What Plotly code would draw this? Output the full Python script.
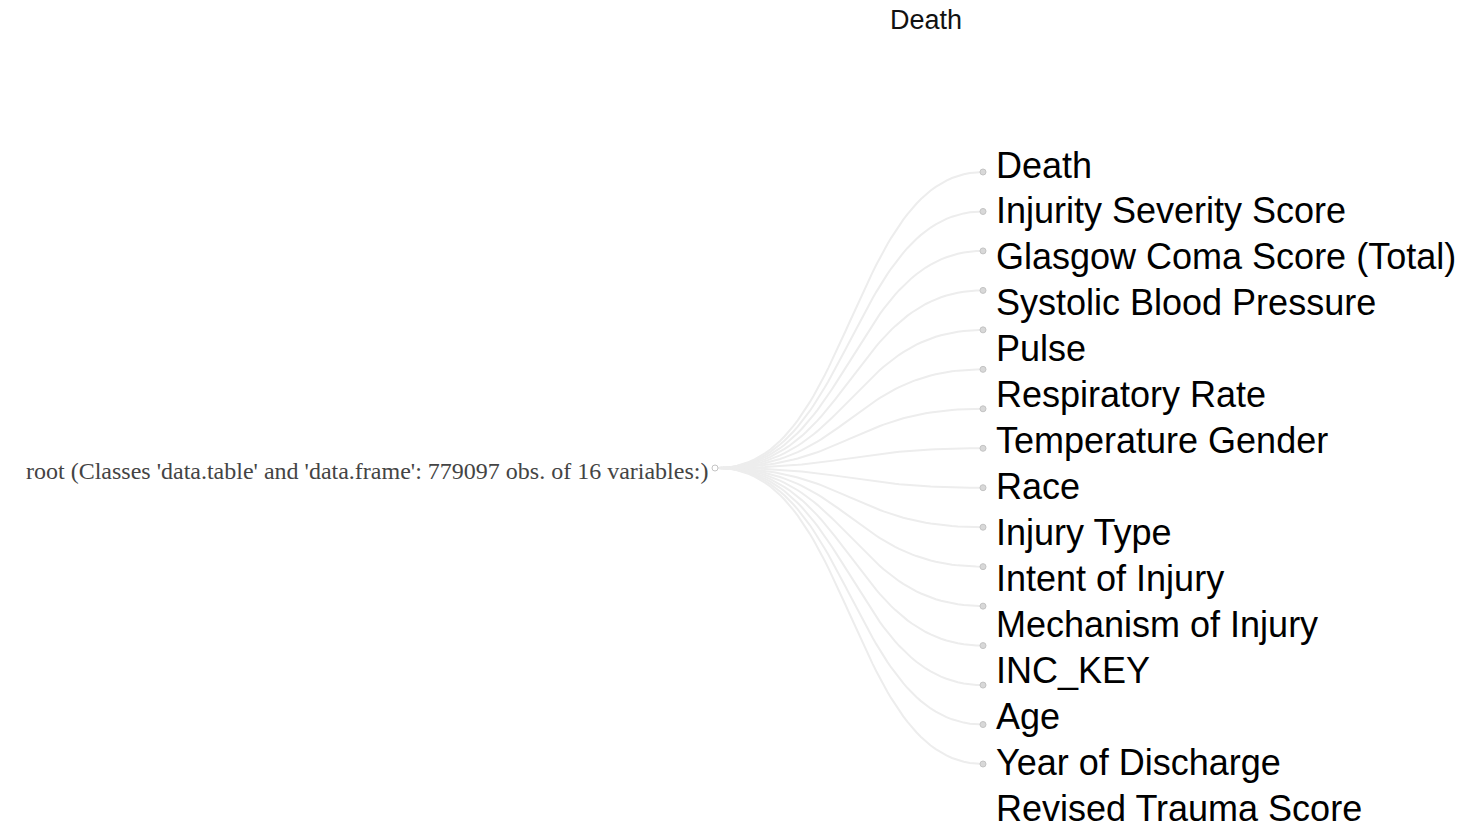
import numpy as np
import plotly.graph_objects as go

title = "Death"
root_label = "root (Classes 'data.table' and 'data.frame': 779097 obs. of 16 variables:)"
variables = ["Death", "Injurity Severity Score", "Glasgow Coma Score (Total)",
             "Systolic Blood Pressure", "Pulse", "Respiratory Rate", "Temperature",
             "Gender", "Race", "Injury Type", "Intent of Injury", "Mechanism of Injury",
             "INC_KEY", "Age", "Year of Discharge", "Revised Trauma Score"]
label_lines = ["Death", "Injurity Severity Score", "Glasgow Coma Score (Total)",
               "Systolic Blood Pressure", "Pulse", "Respiratory Rate",
               "Temperature Gender", "Race", "Injury Type", "Intent of Injury",
               "Mechanism of Injury", "INC_KEY", "Age", "Year of Discharge",
               "Revised Trauma Score"]

W, H = 1467, 826
PAGE = 8  # default body margin of the html page
# tree layout (page pixel space)
root_x, leaf_x = 718, 983
top_y, bot_y = 172, 764
n = len(variables)
leaf_y = np.linspace(top_y, bot_y, n)
root_y = (top_y + bot_y) / 2
label_y = np.linspace(165, 808, len(label_lines))

fig = go.Figure()
t = np.linspace(0, 1, 60)
mx = (root_x + leaf_x) / 2
for ly in leaf_y:
    bx = (1-t)**3*root_x + 3*(1-t)**2*t*mx + 3*(1-t)*t**2*mx + t**3*leaf_x
    by = (1-t)**3*root_y + 3*(1-t)**2*t*root_y + 3*(1-t)*t**2*ly + t**3*ly
    fig.add_trace(go.Scatter(x=bx, y=by, mode="lines",
                             line=dict(color="#ededed", width=2),
                             hoverinfo="skip", showlegend=False))

fig.add_trace(go.Scatter(x=[leaf_x]*n, y=leaf_y, mode="markers",
                         marker=dict(size=6, color="#d8d8d8",
                                     line=dict(color="#c4c4c4", width=1)),
                         text=variables, hoverinfo="text", showlegend=False))
fig.add_trace(go.Scatter(x=[root_x - 3], y=[root_y], mode="markers",
                         marker=dict(size=6, color="#ffffff",
                                     line=dict(color="#c4c4c4", width=1)),
                         text=[root_label], hoverinfo="text", showlegend=False))

fig.add_annotation(x=926, y=20, xref="x", yref="y", text=title, showarrow=False,
                   font=dict(family="Liberation Sans, Arial", size=27, color="#111"),
                   xanchor="center", yanchor="middle")
fig.add_annotation(x=root_x - 8, y=root_y + 3, xref="x", yref="y", text=root_label,
                   showarrow=False, xanchor="right", yanchor="middle",
                   font=dict(family="Liberation Serif, Times New Roman", size=24, color="#444"))
for ly, txt in zip(label_y, label_lines):
    fig.add_annotation(x=994, y=ly, xref="x", yref="y", text=txt,
                       showarrow=False, xanchor="left", yanchor="middle", align="left",
                       font=dict(family="Liberation Sans, Arial", size=36, color="#000"))

fig.update_layout(width=W, height=H, margin=dict(l=0, r=0, t=0, b=0),
                  paper_bgcolor="white", plot_bgcolor="white",
                  xaxis=dict(range=[PAGE, W + PAGE], visible=False, fixedrange=True),
                  yaxis=dict(range=[H + PAGE, PAGE], visible=False, fixedrange=True))
fig.write_html("out.html")
